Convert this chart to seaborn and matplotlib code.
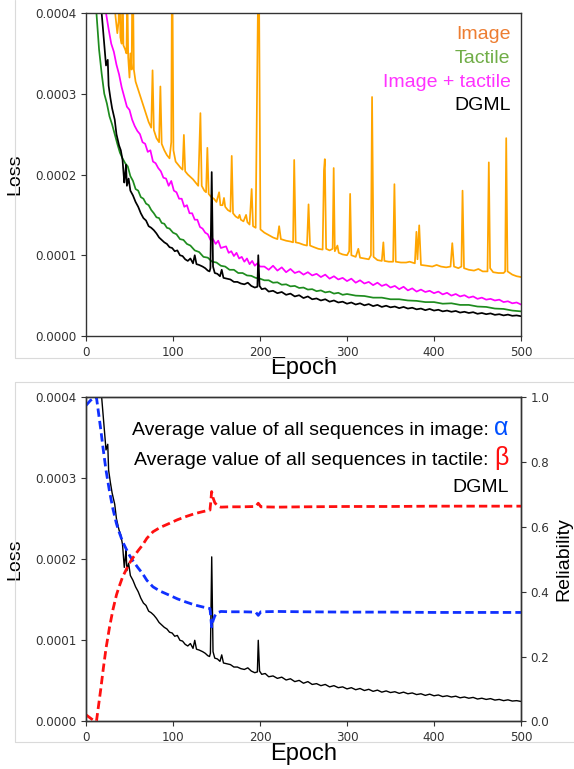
import matplotlib
matplotlib.use("Agg")
import matplotlib.pyplot as plt
from matplotlib.ticker import FormatStrFormatter
from matplotlib.lines import Line2D
import seaborn as sns

# ---------------- data (loss values in units of 1e-4) ----------------
LOSS_UNIT = 1e-4

dgml_epoch = [1, 5, 10, 15, 18, 21, 23, 25, 26, 28, 30, 33, 35, 38, 40, 42, 44, 45, 46, 47,
              49, 51, 54, 57, 60, 63, 66, 69, 72, 75, 78, 81, 84, 87, 90, 93, 96, 99, 102, 105,
              108, 111, 114, 117, 120, 123, 125, 127, 130, 134, 137, 140, 142, 143, 144.5, 146,
              148, 151, 154, 156, 158, 162, 166, 170, 174, 178, 182, 186, 190, 194, 197, 198,
              199.5, 202, 206, 210, 215, 220, 225, 230, 235, 240, 245, 250, 255, 260, 265, 270,
              275, 280, 285, 290, 295, 300, 305, 310, 315, 320, 325, 330, 335, 340, 345, 350,
              355, 360, 365, 370, 375, 380, 385, 390, 395, 400, 405, 410, 415, 420, 425, 430,
              435, 440, 445, 450, 455, 460, 465, 470, 475, 480, 485, 490, 495, 500]
dgml_loss = [20, 11, 6.5, 4.6, 4.0, 3.6, 3.35, 3.42, 3.1, 2.95, 2.82, 2.68, 2.5, 2.36, 2.3, 2.18,
             1.9, 2.0, 2.12, 1.86, 1.95, 1.8, 1.74, 1.66, 1.6, 1.52, 1.46, 1.43, 1.36, 1.34,
             1.31, 1.27, 1.22, 1.19, 1.16, 1.14, 1.10, 1.09, 1.05, 1.06, 1.0, 0.99, 0.95, 0.93,
             0.96, 0.90, 1.0, 0.89, 0.88, 0.86, 0.84, 0.81, 0.80, 0.84, 2.03, 0.86, 0.78, 0.77,
             0.74, 0.82, 0.72, 0.71, 0.70, 0.67, 0.67, 0.65, 0.64, 0.66, 0.62, 0.60, 0.61, 1.0,
             0.62, 0.58, 0.59, 0.55, 0.56, 0.53, 0.545, 0.51, 0.525, 0.49, 0.505, 0.47, 0.49,
             0.455, 0.465, 0.44, 0.455, 0.425, 0.44, 0.415, 0.425, 0.40, 0.415, 0.39, 0.405,
             0.38, 0.395, 0.37, 0.385, 0.36, 0.375, 0.355, 0.365, 0.345, 0.36, 0.34, 0.35, 0.33,
             0.34, 0.32, 0.335, 0.315, 0.325, 0.305, 0.315, 0.30, 0.31, 0.29, 0.30, 0.285,
             0.295, 0.275, 0.285, 0.27, 0.28, 0.262, 0.27, 0.255, 0.265, 0.25, 0.255, 0.245]

tactile_epoch = [1, 5, 9, 12, 15, 18, 21, 24, 27, 30, 33, 36, 39, 42, 45, 48, 51, 54, 57, 60, 63,
                 66, 69, 72, 75, 78, 81, 84, 87, 90, 93, 96, 100, 104, 108, 112, 116, 120, 125,
                 130, 135, 140, 145, 150, 155, 160, 165, 170, 175, 180, 185, 190, 195, 200, 205,
                 210, 215, 220, 225, 230, 235, 240, 245, 250, 255, 260, 265, 270, 275, 280, 285,
                 290, 295, 300, 310, 320, 330, 340, 350, 360, 370, 380, 390, 400, 410, 420, 430,
                 440, 450, 460, 470, 480, 490, 500]
tactile_loss = [15, 8, 5, 4.0, 3.55, 3.25, 3.0, 2.88, 2.72, 2.62, 2.5, 2.38, 2.27, 2.2, 2.14,
                2.1, 1.98, 1.92, 1.82, 1.8, 1.72, 1.7, 1.64, 1.62, 1.56, 1.52, 1.47, 1.46, 1.40,
                1.39, 1.34, 1.33, 1.28, 1.26, 1.20, 1.19, 1.14, 1.12, 1.06, 1.04, 0.98, 0.97,
                0.92, 0.91, 0.87, 0.86, 0.82, 0.82, 0.78, 0.78, 0.75, 0.745, 0.72, 0.71, 0.69,
                0.69, 0.66, 0.665, 0.635, 0.64, 0.615, 0.62, 0.595, 0.60, 0.575, 0.58, 0.555,
                0.565, 0.54, 0.55, 0.525, 0.535, 0.51, 0.52, 0.50, 0.495, 0.475, 0.475, 0.455,
                0.455, 0.44, 0.435, 0.42, 0.42, 0.40, 0.405, 0.385, 0.385, 0.365, 0.36, 0.34,
                0.335, 0.315, 0.305]

fusion_epoch = [1, 8, 15, 20, 23, 26, 29, 32, 35, 38, 41, 44, 47, 50, 53, 56, 59, 62, 65, 68, 71,
                74, 77, 80, 83, 86, 89, 92, 95, 98, 101, 104, 107, 110, 113, 116, 119, 122, 125,
                128, 131, 134, 137, 140, 143, 146, 149, 152, 155, 158, 161, 164, 167, 170, 173,
                176, 179, 182, 185, 188, 191, 194, 197, 200, 205, 210, 215, 220, 225, 230, 235,
                240, 245, 250, 255, 260, 265, 270, 275, 280, 285, 290, 295, 300, 305, 310, 315,
                320, 325, 330, 335, 340, 345, 350, 355, 360, 365, 370, 375, 380, 385, 390, 395,
                400, 405, 410, 415, 420, 425, 430, 435, 440, 445, 450, 455, 460, 465, 470, 475,
                480, 485, 490, 495, 500]
fusion_loss = [25, 10, 6, 4.5, 4.0, 3.8, 3.62, 3.52, 3.36, 3.24, 3.08, 2.96, 2.84, 2.8, 2.68,
               2.6, 2.54, 2.5, 2.4, 2.38, 2.28, 2.3, 2.16, 2.14, 2.08, 2.04, 1.96, 1.95, 1.86,
               1.92, 1.8, 1.78, 1.7, 1.7, 1.6, 1.62, 1.52, 1.52, 1.44, 1.44, 1.35, 1.33, 1.28,
               1.26, 1.19, 1.2, 1.14, 1.18, 1.09, 1.1, 1.11, 1.03, 1.05, 0.99, 1.03, 0.96, 0.98,
               0.92, 0.96, 0.89, 0.93, 0.87, 0.9, 0.86, 0.86, 0.82, 0.87, 0.81, 0.85, 0.79, 0.83,
               0.78, 0.80, 0.76, 0.79, 0.75, 0.77, 0.73, 0.76, 0.71, 0.74, 0.70, 0.72, 0.68,
               0.71, 0.66, 0.69, 0.65, 0.67, 0.63, 0.66, 0.62, 0.64, 0.60, 0.62, 0.58, 0.61,
               0.565, 0.59, 0.55, 0.575, 0.545, 0.56, 0.53, 0.55, 0.515, 0.535, 0.50, 0.52,
               0.49, 0.505, 0.475, 0.49, 0.46, 0.475, 0.45, 0.46, 0.44, 0.45, 0.42, 0.43, 0.405,
               0.415, 0.39]

image_epoch = [28, 32, 34, 36, 37.5, 38.5, 39.5, 41, 42, 43, 45, 46.5, 47.5, 48.5, 50, 51, 52.5,
               53.5, 55, 57, 60, 63, 66, 69, 72, 75, 76.5, 78, 81, 84, 85.5, 87, 90, 93, 96, 98,
               99, 100.5, 103, 106, 109, 111, 112.5, 114, 117, 120, 123, 126, 129, 131.5, 133,
               136, 138, 139.5, 141, 144, 147, 150, 153, 154.5, 157, 158.6, 160, 163, 166,
               167.5, 169, 172, 175, 176.5, 178, 181, 184, 185.5, 188, 190.4, 192, 195, 198.5,
               200.5, 205, 210, 215, 220, 222, 224, 230, 235, 238, 239.3, 241, 245, 250, 254,
               255.8, 257.5, 262, 267, 272, 273.5, 274.5, 276, 280, 283.5, 284.7, 286, 289,
               290.5, 295, 300, 302.5, 303.6, 305, 310, 313, 315, 320, 325, 327.5, 328.8, 330.5,
               335, 340, 341.8, 343, 348, 353, 354.5, 356, 362, 368, 372, 378, 379.8, 381, 383,
               385, 392, 398, 403, 408, 414, 419, 421, 423, 428, 431.5, 432.8, 434.5, 440, 446,
               451, 456, 461.5, 463, 464.5, 468, 474, 480, 481.8, 483, 484.5, 490, 495, 500]
image_loss = [5.0, 4.2, 3.95, 3.75, 3.9, 4.6, 3.7, 3.62, 4.5, 3.6, 3.55, 3.5, 4.3, 3.45, 3.2,
              3.5, 3.3, 4.9, 3.3, 3.15, 3.05, 2.95, 2.85, 2.75, 2.65, 2.58, 3.29, 2.55, 2.45,
              2.4, 3.09, 2.38, 2.3, 2.24, 2.2, 2.4, 5.0, 2.3, 2.16, 2.12, 2.08, 2.06, 2.49, 2.04,
              2.0, 1.97, 1.94, 1.9, 1.86, 2.76, 1.86, 1.8, 1.78, 2.33, 1.76, 1.72, 1.7, 1.66,
              1.78, 1.62, 1.62, 1.71, 1.6, 1.56, 1.54, 2.23, 1.52, 1.48, 1.46, 1.50, 1.44, 1.42,
              1.50, 1.41, 1.38, 1.82, 1.36, 1.34, 5.0, 1.32, 1.28, 1.25, 1.22, 1.2, 1.36, 1.2,
              1.18, 1.17, 1.16, 2.18, 1.16, 1.15, 1.13, 1.12, 1.63, 1.12, 1.10, 1.08, 1.07, 2.05,
              2.19, 1.08, 1.06, 1.08, 2.08, 1.05, 1.12, 1.03, 1.01, 1.0, 1.05, 1.76, 1.0, 0.98,
              1.08, 0.97, 0.96, 0.95, 1.0, 2.96, 0.98, 0.94, 0.93, 1.16, 0.93, 0.92, 0.92, 1.88,
              0.92, 0.91, 0.91, 0.92, 0.90, 1.29, 0.95, 1.37, 0.88, 0.87, 0.86, 0.88, 0.86, 0.85,
              0.86, 1.15, 0.86, 0.84, 0.86, 1.80, 0.84, 0.82, 0.81, 0.83, 0.80, 0.80, 2.15, 0.84,
              0.79, 0.78, 0.78, 0.80, 2.45, 0.80, 0.76, 0.74, 0.73]

rel_epoch = [0, 5, 10, 12, 14, 17, 20, 23, 27, 31, 35, 38, 42, 46, 50, 54, 60, 65, 70, 77, 85, 96,
             105, 115, 125, 134, 142.5, 143.5, 144.4, 146, 148, 151, 155, 165, 180, 195, 198,
             201, 220, 250, 300, 350, 400, 450, 500]
alpha_rel = [0.975, 0.99, 1.0, 1.0, 0.96, 0.90, 0.835, 0.775, 0.71, 0.655, 0.61, 0.585, 0.555,
             0.533, 0.512, 0.495, 0.473, 0.456, 0.435, 0.415, 0.402, 0.389, 0.378, 0.368, 0.359,
             0.353, 0.348, 0.32, 0.291, 0.31, 0.325, 0.335, 0.339, 0.338, 0.338, 0.337, 0.327,
             0.338, 0.339, 0.338, 0.337, 0.337, 0.336, 0.336, 0.336]
beta_rel = [0.02, 0.01, 0.0, 0.0, 0.04, 0.10, 0.165, 0.225, 0.29, 0.345, 0.39, 0.415, 0.445,
            0.467, 0.488, 0.505, 0.527, 0.544, 0.565, 0.585, 0.598, 0.611, 0.622, 0.632, 0.641,
            0.647, 0.652, 0.68, 0.709, 0.69, 0.675, 0.665, 0.661, 0.662, 0.662, 0.663, 0.673,
            0.662, 0.661, 0.662, 0.663, 0.663, 0.664, 0.664, 0.664]

legend_top = ["Image", "Tactile", "Image + tactile", "DGML"]
loss_ticks = [0.0, 0.0001, 0.0002, 0.0003, 0.0004]
epoch_ticks = [0, 100, 200, 300, 400, 500]
rel_ticks = [0.0, 0.2, 0.4, 0.6, 0.8, 1.0]

# ---------------- style ----------------
sns.set_style("ticks")
plt.rcParams.update({
    "font.family": ["DejaVu Sans"],
    "axes.edgecolor": "#333333",
    "axes.linewidth": 1.0,
    "xtick.color": "#333333",
    "ytick.color": "#333333",
    "xtick.labelcolor": "#333333",
    "ytick.labelcolor": "#333333",
    "xtick.major.size": 3.5,
    "ytick.major.size": 3.5,
    "xtick.major.width": 0.8,
    "ytick.major.width": 0.8,
    "xtick.labelsize": 8.6,
    "ytick.labelsize": 8.6,
})
LAB = ["Liberation Sans", "DejaVu Sans"]

W, H = 574, 769
fig = plt.figure(figsize=(W / 100, H / 100), dpi=100)
ax1 = fig.add_axes([86 / W, 1 - 336 / H, 435 / W, 323 / H])
ax2 = fig.add_axes([86 / W, 1 - 721.3 / H, 435 / W, 324 / H])


def scaled(vals):
    return [v * LOSS_UNIT for v in vals]


# ---------------- top panel ----------------
sns.lineplot(x=image_epoch, y=scaled(image_loss), ax=ax1, color="#FFA500", lw=1.25,
             estimator=None, sort=False)
sns.lineplot(x=fusion_epoch, y=scaled(fusion_loss), ax=ax1, color="#FF00FF", lw=1.25,
             estimator=None, sort=False)
sns.lineplot(x=tactile_epoch, y=scaled(tactile_loss), ax=ax1, color="#1E8C1E", lw=1.25,
             estimator=None, sort=False)
sns.lineplot(x=dgml_epoch, y=scaled(dgml_loss), ax=ax1, color="black", lw=1.25,
             estimator=None, sort=False)

for ax in (ax1, ax2):
    ax.set_xlim(0, 500)
    ax.set_ylim(0, 0.0004)
    ax.set_xticks(epoch_ticks)
    ax.set_yticks(loss_ticks)
    ax.yaxis.set_major_formatter(FormatStrFormatter("%.4f"))
    for s in ax.spines.values():
        s.set_visible(True)
    ax.set_xlabel("Epoch", family=LAB, fontsize=17, color="black")
    ax.set_ylabel("Loss", family=LAB, fontsize=14, color="black")
    ax.yaxis.set_label_coords(-0.145, 0.5)
    ax.xaxis.set_label_coords(0.5, -0.066)

legend_colors = ["#ED7D31", "#70AD47", "#FF33FF", "black"]
legend_y = [0.918, 0.844, 0.771, 0.700]
for txt, col, yy in zip(legend_top, legend_colors, legend_y):
    ax1.text(0.976, yy, txt, transform=ax1.transAxes, ha="right", va="baseline",
             color=col, fontsize=14, family=LAB)

# ---------------- bottom panel ----------------
sns.lineplot(x=dgml_epoch, y=scaled(dgml_loss), ax=ax2, color="black", lw=1.0,
             estimator=None, sort=False)
ax3 = ax2.twinx()
sns.lineplot(x=rel_epoch, y=alpha_rel, ax=ax3, color="#1030FF", lw=2.0,
             dashes=False, estimator=None, sort=False).lines[-1].set_dashes([3.0, 1.5])
sns.lineplot(x=rel_epoch, y=beta_rel, ax=ax3, color="#FF1010", lw=2.0,
             dashes=False, estimator=None, sort=False).lines[-1].set_dashes([3.0, 1.5])
ax3.set_ylim(0, 1.0)
ax3.set_yticks(rel_ticks)
ax3.yaxis.set_major_formatter(FormatStrFormatter("%.1f"))
ax3.set_ylabel("Reliability", family=LAB, fontsize=14, color="black")
ax3.yaxis.set_label_coords(1.078, 0.5)
for s in ax3.spines.values():
    s.set_visible(True)

fig.canvas.draw()
right_x = 0.972
rows = [("Average value of all sequences in image:", "\u03b1", "#0050FF", 0.884),
        ("Average value of all sequences in tactile:", "\u03b2", "#FF1010", 0.791)]
for txt, sym, col, yy in rows:
    st = ax2.text(right_x, yy, sym, transform=ax2.transAxes, ha="right", va="baseline",
                  color=col, fontsize=18, family=LAB)
    fig.canvas.draw()
    w = st.get_window_extent().width / ax2.bbox.width
    ax2.text(right_x - w - 6 / 435, yy, txt, transform=ax2.transAxes, ha="right",
             va="baseline", color="black", fontsize=14, family=LAB)
ax2.text(right_x, 0.709, "DGML", transform=ax2.transAxes, ha="right", va="baseline",
         color="black", fontsize=14, family=LAB)


# ---------------- light frame lines of the two panels ----------------
def fx(px):
    return px / W


def fy(py):
    return 1 - py / H


gray = "#DADADA"
for (x0, y0, x1, y1) in [(15, 358.3, 574, 358.3), (15, 0, 15, 358.3),
                         (15, 382.3, 574, 382.3), (15, 382.3, 15, 742.3),
                         (15, 742.3, 574, 742.3)]:
    fig.add_artist(Line2D([fx(x0), fx(x1)], [fy(y0), fy(y1)], color=gray, lw=0.8,
                          transform=fig.transFigure))

fig.savefig("out.png", dpi=100)
